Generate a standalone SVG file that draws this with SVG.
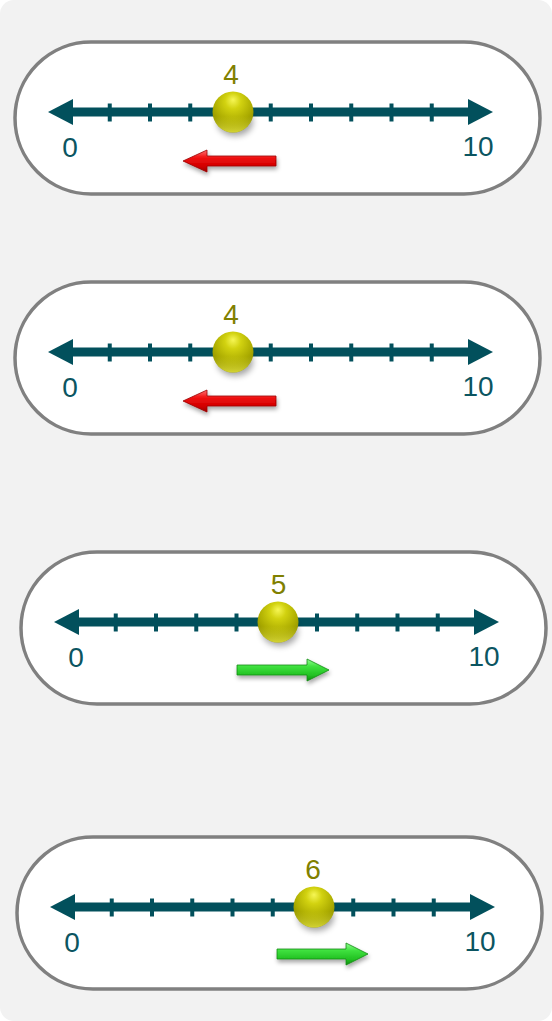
<svg xmlns="http://www.w3.org/2000/svg" xmlns:xlink="http://www.w3.org/1999/xlink" width="552" height="1021" viewBox="0 0 552 1021">
  <style>
    .pill{fill:#ffffff;stroke:#808080;stroke-width:3.5}
    .axis{stroke:#02505c;stroke-width:9;fill:none}
    .head{fill:#02505c}
    .tick{stroke:#02505c;stroke-width:4}
    .num{font-family:"Liberation Sans",Arial,sans-serif;font-size:28px;fill:#0b5561;text-anchor:middle}
    .val{font-family:"Liberation Sans",Arial,sans-serif;font-size:28px;fill:#808000;text-anchor:middle}
    .red{fill:url(#redG);stroke:#9a0000;stroke-width:0.8;filter:url(#sh)}
    .green{fill:url(#greenG);stroke:#138a13;stroke-width:0.8;filter:url(#sh)}
  </style>
  <defs>
    <radialGradient id="ballG" cx="0.5" cy="0.3" r="0.65" fx="0.5" fy="0.2">
      <stop offset="0" stop-color="#f6f655"/>
      <stop offset="0.3" stop-color="#d2d210"/>
      <stop offset="0.75" stop-color="#a9a900"/>
      <stop offset="1" stop-color="#8e8e00"/>
    </radialGradient>
    <linearGradient id="rimG" x1="0" y1="0" x2="0" y2="1">
      <stop offset="0.6" stop-color="#e0e030" stop-opacity="0"/>
      <stop offset="1" stop-color="#e6e640" stop-opacity="0.8"/>
    </linearGradient>
    <linearGradient id="redG" x1="0" y1="0" x2="0" y2="1">
      <stop offset="0" stop-color="#ff7070"/>
      <stop offset="0.35" stop-color="#f01010"/>
      <stop offset="0.75" stop-color="#d00000"/>
      <stop offset="1" stop-color="#9a0000"/>
    </linearGradient>
    <linearGradient id="greenG" x1="0" y1="0" x2="0" y2="1">
      <stop offset="0" stop-color="#90ff90"/>
      <stop offset="0.35" stop-color="#3de03d"/>
      <stop offset="0.75" stop-color="#22c022"/>
      <stop offset="1" stop-color="#108a10"/>
    </linearGradient>
    <filter id="sh" x="-20%" y="-50%" width="140%" height="220%">
      <feDropShadow dx="1" dy="3" stdDeviation="2" flood-color="#000" flood-opacity="0.35"/>
    </filter>
    <filter id="blur" x="-50%" y="-50%" width="200%" height="200%">
      <feGaussianBlur stdDeviation="3"/>
    </filter>
    <g id="axisBase">
      <rect class="pill" x="15" y="42" width="525" height="152" rx="76" ry="76"/>
      <line class="axis" x1="70" y1="112" x2="470" y2="112"/>
      <polygon class="head" points="48,112 73,99 73,125"/>
      <polygon class="head" points="493,112 468,99 468,125"/>
      <g class="tick">
        <line x1="109.75" y1="103.5" x2="109.75" y2="121.5"/>
        <line x1="150" y1="103.5" x2="150" y2="121.5"/>
        <line x1="190.25" y1="103.5" x2="190.25" y2="121.5"/>
        <line x1="230.5" y1="103.5" x2="230.5" y2="121.5"/>
        <line x1="270.75" y1="103.5" x2="270.75" y2="121.5"/>
        <line x1="311" y1="103.5" x2="311" y2="121.5"/>
        <line x1="351.25" y1="103.5" x2="351.25" y2="121.5"/>
        <line x1="391.5" y1="103.5" x2="391.5" y2="121.5"/>
        <line x1="431.75" y1="103.5" x2="431.75" y2="121.5"/>
      </g>
      <text class="num" x="70" y="157">0</text>
      <text class="num" x="478" y="156">10</text>
    </g>
    <g id="ball">
      <ellipse cx="2" cy="10" rx="18" ry="14" fill="#000" opacity="0.35" filter="url(#blur)"/>
      <circle cx="0" cy="0" r="20.5" fill="url(#ballG)"/>
      <circle cx="0" cy="0" r="20.5" fill="url(#rimG)"/>
    </g>
  </defs>

  <rect x="0" y="0" width="552" height="1021" rx="14" ry="14" fill="#f2f2f2"/>

  <g id="panel1">
    <use xlink:href="#axisBase"/>
    <use xlink:href="#ball" x="233" y="112"/>
    <text class="val" x="231" y="84">4</text>
    <polygon class="red" points="183,161 207,150 207,156 276,156 276,166 207,166 207,172"/>
  </g>

  <g id="panel2" transform="translate(0,240)">
    <use xlink:href="#axisBase"/>
    <use xlink:href="#ball" x="233" y="112"/>
    <text class="val" x="231" y="84">4</text>
    <polygon class="red" points="183,161 207,150 207,156 276,156 276,166 207,166 207,172"/>
  </g>

  <g id="panel3" transform="translate(6,510)">
    <use xlink:href="#axisBase"/>
    <use xlink:href="#ball" x="272" y="112"/>
    <text class="val" x="272.5" y="84">5</text>
    <polygon class="green" points="323,160 301,149 301,155 231,155 231,165 301,165 301,171"/>
  </g>

  <g id="panel4" transform="translate(2,795)">
    <use xlink:href="#axisBase"/>
    <use xlink:href="#ball" x="312" y="112"/>
    <text class="val" x="311" y="84">6</text>
    <polygon class="green" points="366,159 344,148 344,154 275,154 275,164 344,164 344,170"/>
  </g>
</svg>
